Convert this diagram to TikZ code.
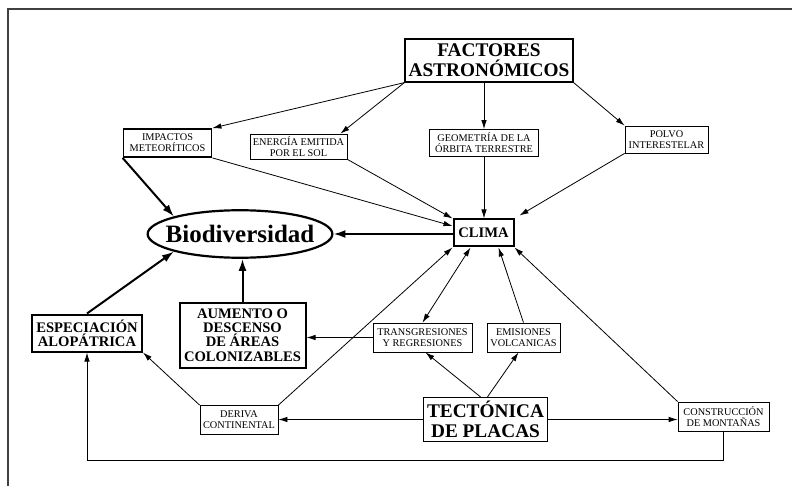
\documentclass[tikz,border=0pt]{standalone}
\usepackage{fontspec}
\setmainfont{Liberation Serif}
\usetikzlibrary{arrows.meta,shapes.geometric}

\begin{document}
\begin{tikzpicture}[x=1pt,y=-1pt,
	smallbox/.style={shape=rectangle,draw=black,line width=0.8pt,align=center,inner sep=1pt,font=\fontsize{10.3}{11}\selectfont},
	boldbox/.style={shape=rectangle,draw=black,line width=2pt,align=center,inner sep=1pt,font=\fontsize{14.6}{14.2}\selectfont\bfseries},
	titlebox/.style={shape=rectangle,draw=black,line width=1.2pt,align=center,inner sep=1pt,font=\fontsize{19.3}{20}\selectfont\bfseries},
	arr/.style={line width=0.8pt,-{Latex[length=9pt,width=5.5pt]}},
	dblarr/.style={line width=0.8pt,{Latex[length=9pt,width=5.5pt]}-{Latex[length=9pt,width=5.5pt]}},
	thickarr/.style={line width=2pt,-{Latex[length=12pt,width=8pt]}}]
	
	\useasboundingbox (0,0) rectangle (792,486);
	\draw[line width=1.2pt,black!75] (8,486) -- (8,9) -- (792,9);
	
	\node[titlebox,minimum width=168pt,minimum height=43pt] (factores) at (489,60.5) {FACTORES\\ASTRONÓMICOS};
	\node[smallbox,line width=1.8pt,minimum width=88pt,minimum height=28pt] (impactos) at (167.5,143) {IMPACTOS\\METEORÍTICOS};
	\node[smallbox,minimum width=97pt,minimum height=25pt] (energia) at (298.5,146.5) {ENERGÍA EMITIDA\\POR EL SOL};
	\node[smallbox,minimum width=109pt,minimum height=27pt] (geometria) at (484,143) {GEOMETRÍA DE LA\\ÓRBITA TERRESTRE};
	\node[smallbox,minimum width=83pt,minimum height=27pt] (polvo) at (666.5,139.5) {POLVO\\INTERESTELAR};
	
	\node[shape=ellipse,draw=black,line width=2.2pt,inner xsep=-9pt,inner ysep=8pt,font=\fontsize{25}{25}\selectfont\bfseries] (bio) at (240,234) {Biodiversidad};
	\node[boldbox,minimum width=60pt,minimum height=27pt] (clima) at (483.5,233) {CLIMA};
	
	\node[boldbox,minimum width=110pt,minimum height=37pt] (espec) at (87,333) {ESPECIACIÓN\\ALOPÁTRICA};
	\node[boldbox,minimum width=126pt,minimum height=65pt] (aumento) at (242.5,335) {AUMENTO O\\DESCENSO\\DE ÁREAS\\COLONIZABLES};
	\node[smallbox,minimum width=99pt,minimum height=29pt] (transg) at (422.5,337.5) {TRANSGRESIONES\\Y REGRESIONES};
	\node[smallbox,minimum width=73pt,minimum height=29pt] (emisiones) at (523.5,337.5) {EMISIONES\\VOLCANICAS};
	
	\node[smallbox,minimum width=78pt,minimum height=29pt] (deriva) at (239,420) {DERIVA\\CONTINENTAL};
	\node[titlebox,minimum width=124pt,minimum height=44pt] (tectonica) at (485.5,419.5) {TECTÓNICA\\DE PLACAS};
	\node[smallbox,minimum width=91pt,minimum height=29pt] (constr) at (723.5,416.5) {CONSTRUCCIÓN\\DE MONTAÑAS};
	\coordinate (base) at (0,460.5);
	
	\path[arr] (factores.south west) edge (impactos.north east);
	\path[arr] (factores.south west) edge ([xshift=-7pt]energia.north east);
	\path[arr] (geometria.north |- factores.south) edge (geometria.north);
	\path[arr] (factores.south east) edge (polvo.north west);
	
	\path[thickarr] (impactos.south west) edge (bio.north west);
	\path[arr] (impactos.south east) edge ([yshift=7pt]clima.west);
	\path[arr] (energia.south east) edge (clima.north west);
	\path[arr] (geometria.south) edge (geometria.south |- clima.north);
	\path[arr] (polvo.south west) edge ([shift={(5pt,3pt)}]clima.north east);
	
	\path[thickarr] (clima.west |- bio.east) edge (bio.east);
	\path[thickarr] (espec.north) edge (bio.south west);
	\path[thickarr] (aumento.north) edge (aumento.north |- bio.south);
	
	\path[arr] (transg.west) edge (transg.west -| aumento.east);
	\path[dblarr] (transg.north) edge ([xshift=-13pt]clima.south);
	\path[arr] (emisiones.north) edge ([xshift=15pt]clima.south);
	\path[arr] (deriva.north east) edge (clima.south west);
	\path[arr] (constr.north west) edge (clima.south east);
	\path[arr] (deriva.north west) edge (espec.south east);
	
	\path[arr] (tectonica.west) edge (tectonica.west -| deriva.east);
	\path[arr] (tectonica.east) edge (tectonica.east -| constr.west);
	\path[arr] ([xshift=-5pt]tectonica.north) edge ([xshift=3pt]transg.south);
	\path[arr] ([xshift=2pt]tectonica.north) edge ([xshift=-5pt]emisiones.south);
	\draw[arr] (constr.south) -- (constr.south |- base) -| (espec.south);
	
\end{tikzpicture}
\end{document}
